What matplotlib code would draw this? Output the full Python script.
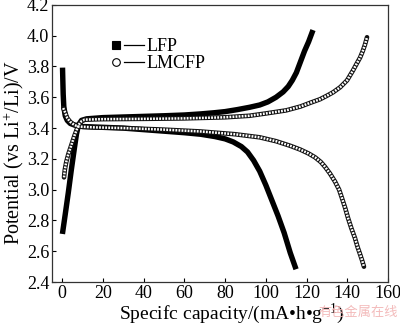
import matplotlib
matplotlib.use("Agg")
import matplotlib.pyplot as plt
from matplotlib.lines import Line2D

plt.rcParams['font.family'] = ['Liberation Serif', 'DejaVu Serif']
plt.rcParams['mathtext.fontset'] = 'custom'
plt.rcParams['mathtext.rm'] = 'Liberation Serif'
plt.rcParams['mathtext.it'] = 'Liberation Serif:italic'
plt.rcParams['lines.scale_dashes'] = False

# ---- data (capacity mA·h/g, potential V) ----
lfp_chg_x = [0.3, 1.5, 3.0, 4.5, 6.0, 7.0, 8.0, 9.5, 12, 20, 30, 40, 50, 60, 68, 75, 80, 86, 92, 97,
             101, 105, 108.5, 111, 113, 115, 117, 119, 121, 122.7]
lfp_chg_y = [2.73, 2.84, 2.98, 3.13, 3.27, 3.36, 3.42, 3.45, 3.46, 3.468, 3.472, 3.476, 3.48, 3.485, 3.492,
             3.50, 3.507, 3.52, 3.535, 3.55, 3.57, 3.60, 3.635, 3.67, 3.71, 3.76, 3.83, 3.90, 3.96, 4.02]

lfp_dis_x = [0.2, 0.3, 0.5, 0.8, 1.5, 2.5, 4, 6, 10, 20, 30, 40, 50, 60, 68, 75, 80, 84, 88, 91,
             94, 97, 100, 103, 106, 109, 112, 114.4]
lfp_dis_y = [3.775, 3.72, 3.62, 3.54, 3.48, 3.45, 3.43, 3.42, 3.41, 3.405, 3.40, 3.39, 3.38, 3.37, 3.36,
             3.345, 3.33, 3.31, 3.28, 3.245, 3.19, 3.12, 3.03, 2.93, 2.83, 2.72, 2.59, 2.50]

lmc_chg_x = [0.9, 1.3, 2, 3, 4, 5, 6, 7, 8, 9.5, 11, 20, 40, 60, 80, 92, 100, 110, 117, 122, 126.6,
             130, 133, 136.5, 139.9, 142.8, 144.7, 146.3, 147.6, 148.7, 149.7]
lmc_chg_y = [3.08, 3.13, 3.18, 3.23, 3.27, 3.31, 3.35, 3.385, 3.42, 3.445, 3.455, 3.458, 3.46, 3.463,
             3.47, 3.48, 3.495, 3.515, 3.54, 3.565, 3.587, 3.61, 3.632, 3.665, 3.71, 3.774, 3.82,
             3.858, 3.90, 3.942, 3.99]

lmc_dis_x = [0.5, 1.5, 2.5, 4, 6, 8, 15, 30, 50, 68, 85, 97, 105, 112, 117, 121, 124.2, 127, 129.1,
             131.5, 134, 136, 137.4, 139, 140.4, 142, 143.8, 145, 146.3, 147.3, 148.2]
lmc_dis_y = [3.53, 3.50, 3.465, 3.44, 3.42, 3.41, 3.405, 3.40, 3.39, 3.378, 3.36, 3.34, 3.315, 3.285,
             3.26, 3.235, 3.21, 3.18, 3.148, 3.105, 3.052, 3.0, 2.945, 2.88, 2.815, 2.75, 2.685,
             2.63, 2.58, 2.54, 2.50]

x_ticks = [0, 20, 40, 60, 80, 100, 120, 140, 160]
y_ticks = [2.4, 2.6, 2.8, 3.0, 3.2, 3.4, 3.6, 3.8, 4.0, 4.2]
labels = ['LFP', 'LMCFP']

fig = plt.figure(figsize=(4.0, 3.25), dpi=100)
ax = fig.add_axes([0.13, 0.132, 0.84, 0.853])

# LFP: dense filled squares -> thick black band
for xs, ys in [(lfp_chg_x, lfp_chg_y), (lfp_dis_x, lfp_dis_y)]:
    ax.plot(xs, ys, color='black', lw=3.9, solid_capstyle='projecting', solid_joinstyle='round', zorder=3)

# LMCFP: dense open circles -> chain of circles look
for xs, ys in [(lmc_chg_x, lmc_chg_y), (lmc_dis_x, lmc_dis_y)]:
    ax.plot(xs, ys, color='#111111', lw=3.3, solid_capstyle='round', solid_joinstyle='round', zorder=4)
    ax.plot(xs, ys, color='white', lw=1.8, dashes=(1.3, 0.9), dash_capstyle='butt', zorder=5)

ax.set_xlim(-5, 160)
ax.set_ylim(2.4, 4.2)
ax.set_xticks(x_ticks)
ax.set_yticks(y_ticks)
ax.set_yticklabels([f'{v:.1f}' for v in y_ticks])
ax.tick_params(direction='in', length=3, width=0.8, labelsize=13, colors='black', pad=2)
for s in ax.spines.values():
    s.set_color('#333333')
    s.set_linewidth(0.9)

ax.set_xlabel('Specifc capacity/(mA•h•g$^{-1}$)', fontsize=14)
ax.set_ylabel('Potential (vs Li$^{+}$/Li)/V', fontsize=14.5)
ax.xaxis.set_label_coords(0.535, -0.072)
ax.yaxis.set_label_coords(-0.076, 0.466)


class MarkerLineHandler:
    def __init__(self, marker, face):
        self.marker = marker
        self.face = face

    def legend_artist(self, legend, orig_handle, fontsize, handlebox):
        x0, y0 = handlebox.xdescent, handlebox.ydescent
        w, h = handlebox.width, handlebox.height
        yc = y0 + h / 2
        ln = Line2D([x0 + 0.36 * w, x0 + w], [yc, yc], color='black', lw=0.9,
                    transform=handlebox.get_transform())
        mk = Line2D([x0 + 0.12 * w], [yc], marker=self.marker, ms=5.5, mfc=self.face,
                    mec='black', mew=0.8, ls='none', transform=handlebox.get_transform())
        handlebox.add_artist(ln)
        handlebox.add_artist(mk)
        return mk


h1 = Line2D([], [], color='black')
h2 = Line2D([], [], color='black')
ax.legend([h1, h2], labels, loc='upper left', bbox_to_anchor=(0.18, 0.88), frameon=False,
          fontsize=13, handlelength=1.75, handletextpad=0.12, labelspacing=0.0, borderpad=0,
          borderaxespad=0,
          handler_map={h1: MarkerLineHandler('s', 'black'), h2: MarkerLineHandler('o', 'white')})

fig.text(0.995, 0.028, '有色金属在线', color='#f2b4b4', fontsize=9.5,
         family=['Noto Sans CJK SC', 'DejaVu Sans'], ha='right', va='baseline', alpha=0.9)

fig.savefig('out.png', dpi=100)
